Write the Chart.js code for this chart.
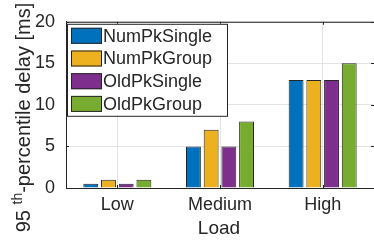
<!DOCTYPE html>
<html>
<head>
<meta charset="utf-8">
<script src="https://cdn.jsdelivr.net/npm/chart.js@4"></script>
<style>
  html, body { margin: 0; padding: 0; background: #fff; }
  #chart { display: block; }
</style>
</head>
<body>
<canvas id="chart" width="374" height="243"></canvas>
<script>
// data
let categories = ["Low", "Medium", "High"];
let seriesNames = ["NumPkSingle", "NumPkGroup", "OldPkSingle", "OldPkGroup"];
let numPkSingle = [0.5, 5, 13];
let numPkGroup = [1, 7, 13];
let oldPkSingle = [0.5, 5, 13];
let oldPkGroup = [1, 8, 15];
let yTicks = [0, 5, 10, 15, 20];

let colors = ["#0072BD", "#EDB120", "#7E2F8E", "#77AC30"];
let axisColor = "#262626";
let fontFamily = "'Liberation Sans', Arial, sans-serif";

// =======================
// PLUGINS
// =======================

// box, inward ticks, legend and axis titles (MATLAB look)
const decorations = {
  id: "decorations",
  afterDatasetsDraw(chart) {
    const ctx = chart.ctx;
    const a = chart.chartArea;
    const x = chart.scales.x;
    const y = chart.scales.y;

    ctx.save();
    ctx.strokeStyle = axisColor;
    ctx.lineWidth = 1;
    ctx.strokeRect(a.left + 0.5, a.top + 0.5, a.right - a.left, a.bottom - a.top);

    // inward tick marks
    ctx.beginPath();
    yTicks.forEach(v => {
      let py = Math.round(y.getPixelForValue(v)) + 0.5;
      ctx.moveTo(a.left, py); ctx.lineTo(a.left + 3, py);
      ctx.moveTo(a.right, py); ctx.lineTo(a.right - 3, py);
    });
    categories.forEach((c, i) => {
      let px = Math.round(x.getPixelForValue(i)) + 0.5;
      ctx.moveTo(px, a.bottom); ctx.lineTo(px, a.bottom - 3);
      ctx.moveTo(px, a.top); ctx.lineTo(px, a.top + 3);
    });
    ctx.stroke();

    // legend inside top-left
    let lx = a.left + 1, ly = a.top + 2, lw = 160, lh = 92;
    ctx.fillStyle = "#fff";
    ctx.fillRect(lx, ly, lw, lh);
    ctx.strokeRect(lx + 0.5, ly + 0.5, lw, lh);
    ctx.font = "18px " + fontFamily;
    ctx.textBaseline = "middle";
    ctx.textAlign = "left";
    chart.data.datasets.forEach((ds, i) => {
      let ry = ly + 4 + i * 22.7;
      ctx.fillStyle = ds.backgroundColor;
      ctx.fillRect(lx + 4, ry, 31, 16);
      ctx.strokeStyle = axisColor;
      ctx.strokeRect(lx + 4.5, ry + 0.5, 30, 15);
      ctx.fillStyle = axisColor;
      ctx.fillText(ds.label, lx + 36, ry + 9);
    });

    // x title
    ctx.font = "19px " + fontFamily;
    ctx.textAlign = "center";
    ctx.fillText("Load", (a.left + a.right) / 2 - 1, 229);

    // y title with superscript
    ctx.translate(24, 117.5);
    ctx.rotate(-Math.PI / 2);
    let p1 = "95 ", p2 = "th", p3 = "-percentile delay [ms]";
    ctx.textBaseline = "alphabetic";
    ctx.font = "20px " + fontFamily;
    let w1 = ctx.measureText(p1).width;
    let w3 = ctx.measureText(p3).width;
    ctx.font = "14px " + fontFamily;
    let w2 = ctx.measureText(p2).width;
    let start = -(w1 + w2 + w3) / 2;
    ctx.textAlign = "left";
    ctx.font = "20px " + fontFamily;
    ctx.fillText(p1, start, 6);
    ctx.font = "14px " + fontFamily;
    ctx.fillText(p2, start + w1, -2);
    ctx.font = "20px " + fontFamily;
    ctx.fillText(p3, start + w1 + w2, 6);
    ctx.restore();
  }
};

// =======================
// CHART
// =======================

const ctx = document.getElementById("chart").getContext("2d");
const values = [numPkSingle, numPkGroup, oldPkSingle, oldPkGroup];

new Chart(ctx, {
  type: "bar",
  data: {
    labels: categories,
    datasets: seriesNames.map((name, i) => ({
      label: name,
      data: values[i],
      backgroundColor: colors[i],
      borderColor: axisColor,
      borderWidth: 1,
      categoryPercentage: 0.69,
      barPercentage: 0.84
    }))
  },
  options: {
    responsive: false,
    animation: false,
    devicePixelRatio: 1,
    layout: { padding: { top: 17, right: -3, left: 0, bottom: 0 } },
    plugins: {
      legend: { display: false },
      tooltip: { enabled: false }
    },
    scales: {
      x: {
        grid: { offset: false, color: "#e3e3e3", drawTicks: false },
        border: { color: axisColor },
        ticks: {
          color: axisColor,
          font: { family: fontFamily, size: 18 },
          padding: 6
        },
        afterFit: s => { s.height = 55; }
      },
      y: {
        min: 0,
        max: 20,
        afterBuildTicks: s => { s.ticks = yTicks.map(v => ({ value: v })); },
        grid: { color: "#e3e3e3", drawTicks: false },
        border: { color: axisColor },
        ticks: {
          color: axisColor,
          font: { family: fontFamily, size: 18 },
          padding: 11
        },
        afterFit: s => { s.width = 66; }
      }
    }
  },
  plugins: [decorations]
});
</script>
</body>
</html>
